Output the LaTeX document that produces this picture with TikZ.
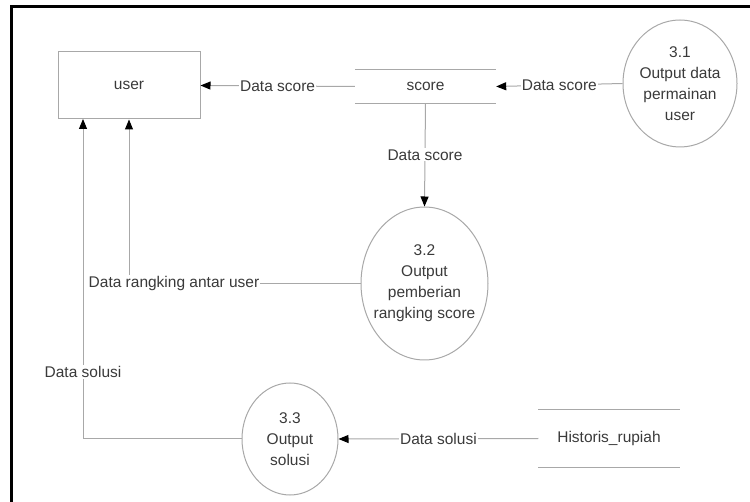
\documentclass[tikz,border=0pt]{standalone}
\usepackage{fontspec}
\setmainfont{Liberation Sans}
\usetikzlibrary{shapes.geometric,arrows.meta}
\definecolor{ln}{HTML}{A8A8A8}
\definecolor{tx}{HTML}{3A3A3A}
\begin{document}
\begin{tikzpicture}[x=1pt,y=-1pt,
  every node/.style={font=\fontsize{15.5}{21}\selectfont,text=tx,align=center,inner sep=0pt},
  entity/.style={draw=ln,line width=1pt,rectangle,minimum width=142pt,minimum height=67pt},
  store/.style={rectangle,minimum width=141pt},
  proc/.style={draw=ln,line width=1pt,ellipse,inner sep=-9pt},
  flow/.style={draw=ln,line width=1pt,-{Triangle[length=10pt,width=8pt,color=black]}},
  lbl/.style={fill=white,inner sep=1pt}]
\useasboundingbox (0,0) rectangle (750,502);
\draw[line width=3pt,black] (11,503) -- (11,7) -- (751,7);

\node[entity] (user) at (129,85.5) {user};
\node[store,minimum height=33pt] (score) at (425.5,86.5) {score};
\draw[ln,line width=1pt] (score.north west) -- (score.north east);
\draw[ln,line width=1pt] (score.south west) -- (score.south east);

\node[proc,minimum width=114pt,minimum height=127pt] (c31) at (680,83.5) {3.1\\Output data\\permainan\\user};
\node[proc,minimum width=127pt,minimum height=153pt] (c32) at (424.5,283.5) {3.2\\Output\\pemberian\\rangking score};
\node[proc,minimum width=96pt,minimum height=112pt] (c33) at (290,439) {3.3\\Output\\solusi};

\node[store,minimum height=57pt] (hist) at (609,438.5) {Historis\_rupiah};
\draw[ln,line width=1pt] (hist.north west) -- (hist.north east);
\draw[ln,line width=1pt] (hist.south west) -- (hist.south east);

\coordinate (uA) at (83,119);

\draw[flow] (score.west) -- node[lbl] {Data score} (user.east);
\draw[flow] (c31.west) -- node[lbl] {Data score} (score.east);
\draw[flow] (score.south) -- node[lbl] {Data score} (c32.north);
\draw[flow] (c32.west) -| (user.south);
\node[lbl] (l1) at (174,283) {Data rangking antar user};
\draw[flow] (c33.west) -| (uA);
\node[lbl] (l2) at (83,372) {Data solusi};
\draw[flow] (hist.west) -- node[lbl] {Data solusi} (c33.east);
\end{tikzpicture}
\end{document}
